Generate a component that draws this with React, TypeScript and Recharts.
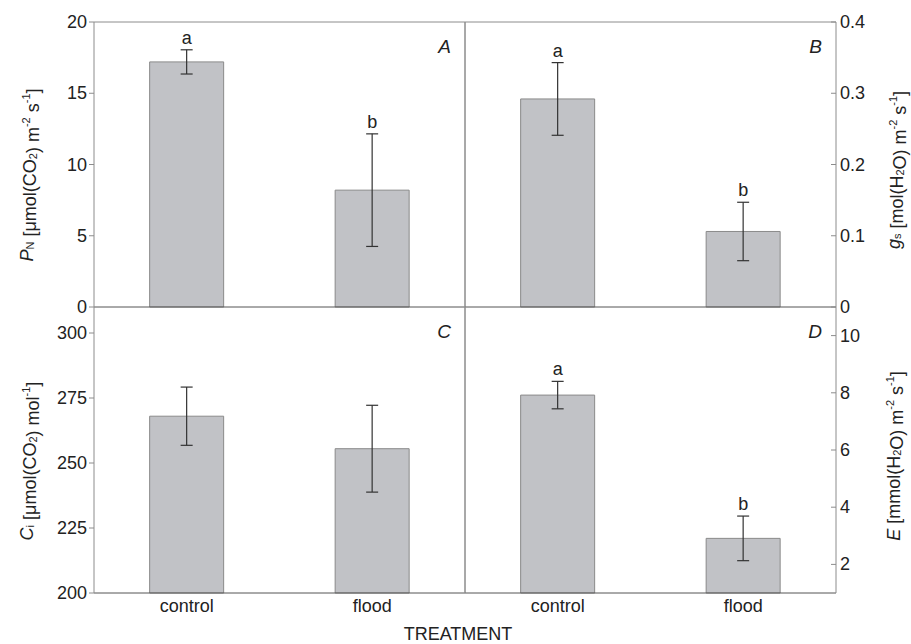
import React from "react";
import { BarChart, Bar, XAxis, YAxis, ErrorBar, LabelList, Label } from "recharts";

const treatments = ["control", "flood"];

// A: net photosynthetic rate
const pnMean = [17.2, 8.2];
const pnErr = [0.85, 3.95];
const pnLetters = ["a", "b"];
const pnTicks = [0, 5, 10, 15, 20];

// B: stomatal conductance
const gsMean = [0.292, 0.106];
const gsErr = [0.051, 0.041];
const gsLetters = ["a", "b"];
const gsTicks = [0, 0.1, 0.2, 0.3, 0.4];

// C: intercellular CO2
const ciMean = [268, 255.5];
const ciErr = [11.2, 16.7];
const ciLetters = ["", ""];
const ciTicks = [200, 225, 250, 275, 300];

// D: transpiration rate
const eMean = [7.92, 2.91];
const eErr = [0.48, 0.78];
const eLetters = ["a", "b"];
const eTicks = [2, 4, 6, 8, 10];

const W = 911;
const H = 644;
const TEXT = "#222";
const DARK = "#555";
const EDGE = "#8c8c8c";
const FONT = "'Liberation Sans', Arial, sans-serif";

type Row = { name: string; mean: number; err: number; letter: string };

const makeRows = (mean: number[], err: number[], letters: string[]): Row[] =>
  treatments.map((name, i) => ({ name, mean: mean[i], err: err[i], letter: letters[i] }));

const LeftTick = (props: any) => {
  const { x, y, payload } = props;
  return (
    <g>
      <line x1={x - 5} x2={x} y1={y} y2={y} stroke={EDGE} />
      <text x={x - 7} y={y} textAnchor="end" dominantBaseline="central" fontSize={18} fill={TEXT}>
        {String(payload.value)}
      </text>
    </g>
  );
};

const RightTick = (props: any) => {
  const { x, y, payload } = props;
  return (
    <g>
      <line x1={x - 5} x2={x} y1={y} y2={y} stroke={EDGE} />
      <text x={x + 4} y={y} textAnchor="start" dominantBaseline="central" fontSize={18} fill={TEXT}>
        {String(payload.value)}
      </text>
    </g>
  );
};

const XTick = (props: any) => {
  const { x, y, payload } = props;
  return (
    <text x={x} y={y + 19} textAnchor="middle" fontSize={18} fill={TEXT}>
      {payload.value}
    </text>
  );
};

const sub = (t: string) => [
  <tspan key={t + "s"} fontSize={11} dy={3}>{t}</tspan>,
  <tspan key={t + "r"} dy={-3}></tspan>,
];

interface PanelProps {
  rows: Row[];
  domain: [number, number];
  ticks: number[];
  side: "left" | "right";
  box: { x0: number; x1: number; y0: number; y1: number };
  letter: string;
  bottom: boolean;
  yLabel: React.ReactNode;
  labelX: number;
  labelY: number;
  extra?: React.ReactNode;
}

function Panel({ rows, domain, ticks, side, box, letter, bottom, yLabel, labelX, labelY, extra }: PanelProps) {
  const base = domain[0];
  // every axis takes 1px of room, so the margins give that pixel back
  const margin = {
    top: box.y0 - (bottom ? 0 : 1),
    left: box.x0 - 1,
    right: W - box.x1 - 1,
    bottom: H - box.y1 - 1,
  };

  const letterContent = (props: any) => {
    const { index } = props;
    const vb = props.viewBox ?? props;
    const row = rows[index];
    if (!row || !row.letter) return null;
    const ppu = Math.abs(vb.height) / (row.mean - base);
    const top = vb.y - row.err * ppu;
    return (
      <text x={vb.x + vb.width / 2} y={top - 6} textAnchor="middle" fontSize={18} fill={TEXT}>
        {row.letter}
      </text>
    );
  };

  return (
    <div style={{ position: "absolute", left: 0, top: 0, pointerEvents: "none" }}>
      <BarChart width={W} height={H} data={rows} margin={margin} barCategoryGap="30%">
        <XAxis
          dataKey="name"
          height={1}
          tickLine={false}
          tickSize={0}
          tickMargin={0}
          interval={0}
          axisLine={{ stroke: DARK }}
          tick={bottom ? <XTick /> : false}
        >
          <Label
            content={() => (
              <text x={box.x1 - 14} y={box.y0 + 31} textAnchor="end" fontStyle="italic" fontSize={19} fill={TEXT}>
                {letter}
              </text>
            )}
          />
          {extra}
        </XAxis>
        {!bottom && (
          <XAxis
            xAxisId="top"
            dataKey="name"
            orientation="top"
            height={1}
            tick={false}
            tickLine={false}
            axisLine={{ stroke: EDGE }}
          />
        )}
        <YAxis
          domain={domain}
          ticks={ticks}
          type="number"
          orientation={side}
          width={1}
          interval={0}
          tickLine={false}
          tickSize={0}
          tickMargin={0}
          axisLine={{ stroke: EDGE }}
          tick={side === "left" ? <LeftTick /> : <RightTick />}
        >
          <Label
            content={() => (
              <text
                transform={`translate(${labelX},${labelY}) rotate(-90)`}
                textAnchor="middle"
                dominantBaseline="central"
                fontSize={18}
                fill={TEXT}
              >
                {yLabel}
              </text>
            )}
          />
        </YAxis>
        <YAxis
          yAxisId="edge"
          domain={domain}
          type="number"
          orientation={side === "left" ? "right" : "left"}
          width={1}
          tick={false}
          tickLine={false}
          axisLine={{ stroke: EDGE }}
        />
        <Bar dataKey="mean" fill="#c1c2c6" stroke="#8a8a8a" strokeWidth={1} isAnimationActive={false}>
          <ErrorBar dataKey="err" direction="y" width={6} stroke="#333" strokeWidth={1.2} />
          <LabelList dataKey="letter" content={letterContent} />
        </Bar>
      </BarChart>
    </div>
  );
}

export default function App() {
  const pnLabel = [
    <tspan key="p" fontStyle="italic">P</tspan>,
    ...sub("N"),
    <tspan key="a"> [μmol(CO</tspan>,
    ...sub("2"),
    <tspan key="b">) m</tspan>,
    <tspan key="c" fontSize={11} dy={-7}>-2</tspan>,
    <tspan key="d" dy={7}> s</tspan>,
    <tspan key="e" fontSize={11} dy={-7}>-1</tspan>,
    <tspan key="f" dy={7}>]</tspan>,
  ];
  const gsLabel = [
    <tspan key="g" fontStyle="italic">g</tspan>,
    ...sub("s"),
    <tspan key="a"> [mol(H</tspan>,
    ...sub("2"),
    <tspan key="b">O) m</tspan>,
    <tspan key="c" fontSize={11} dy={-7}>-2</tspan>,
    <tspan key="d" dy={7}> s</tspan>,
    <tspan key="e" fontSize={11} dy={-7}>-1</tspan>,
    <tspan key="f" dy={7}>]</tspan>,
  ];
  const ciLabel = [
    <tspan key="c0" fontStyle="italic">C</tspan>,
    ...sub("i"),
    <tspan key="a"> [μmol(CO</tspan>,
    ...sub("2"),
    <tspan key="b">) mol</tspan>,
    <tspan key="e" fontSize={11} dy={-7}>-1</tspan>,
    <tspan key="f" dy={7}>]</tspan>,
  ];
  const eLabel = [
    <tspan key="e0" fontStyle="italic">E</tspan>,
    <tspan key="a"> [mmol(H</tspan>,
    ...sub("2"),
    <tspan key="b">O) m</tspan>,
    <tspan key="c" fontSize={11} dy={-7}>-2</tspan>,
    <tspan key="d" dy={7}> s</tspan>,
    <tspan key="e" fontSize={11} dy={-7}>-1</tspan>,
    <tspan key="f" dy={7}>]</tspan>,
  ];

  const treatmentLabel = (
    <Label
      content={() => (
        <text x={458} y={640} textAnchor="middle" fontSize={18} fill={TEXT}>
          TREATMENT
        </text>
      )}
    />
  );

  return (
    <div
      style={{
        position: "absolute",
        left: 0,
        top: 0,
        width: W,
        height: H,
        background: "#fff",
        fontFamily: FONT,
      }}
    >
      <Panel
        rows={makeRows(pnMean, pnErr, pnLetters)}
        domain={[0, 20]}
        ticks={pnTicks}
        side="left"
        box={{ x0: 94, x1: 465, y0: 22, y1: 307 }}
        letter="A"
        bottom={false}
        yLabel={pnLabel}
        labelX={27}
        labelY={175}
      />
      <Panel
        rows={makeRows(gsMean, gsErr, gsLetters)}
        domain={[0, 0.4]}
        ticks={gsTicks}
        side="right"
        box={{ x0: 465, x1: 836, y0: 22, y1: 307 }}
        letter="B"
        bottom={false}
        yLabel={gsLabel}
        labelX={894}
        labelY={170}
      />
      <Panel
        rows={makeRows(ciMean, ciErr, ciLetters)}
        domain={[200, 310]}
        ticks={ciTicks}
        side="left"
        box={{ x0: 94, x1: 465, y0: 307, y1: 593 }}
        letter="C"
        bottom={true}
        yLabel={ciLabel}
        labelX={27}
        labelY={461}
      />
      <Panel
        rows={makeRows(eMean, eErr, eLetters)}
        domain={[1, 11]}
        ticks={eTicks}
        side="right"
        box={{ x0: 465, x1: 836, y0: 307, y1: 593 }}
        letter="D"
        bottom={true}
        yLabel={eLabel}
        labelX={894}
        labelY={456}
        extra={treatmentLabel}
      />
    </div>
  );
}
